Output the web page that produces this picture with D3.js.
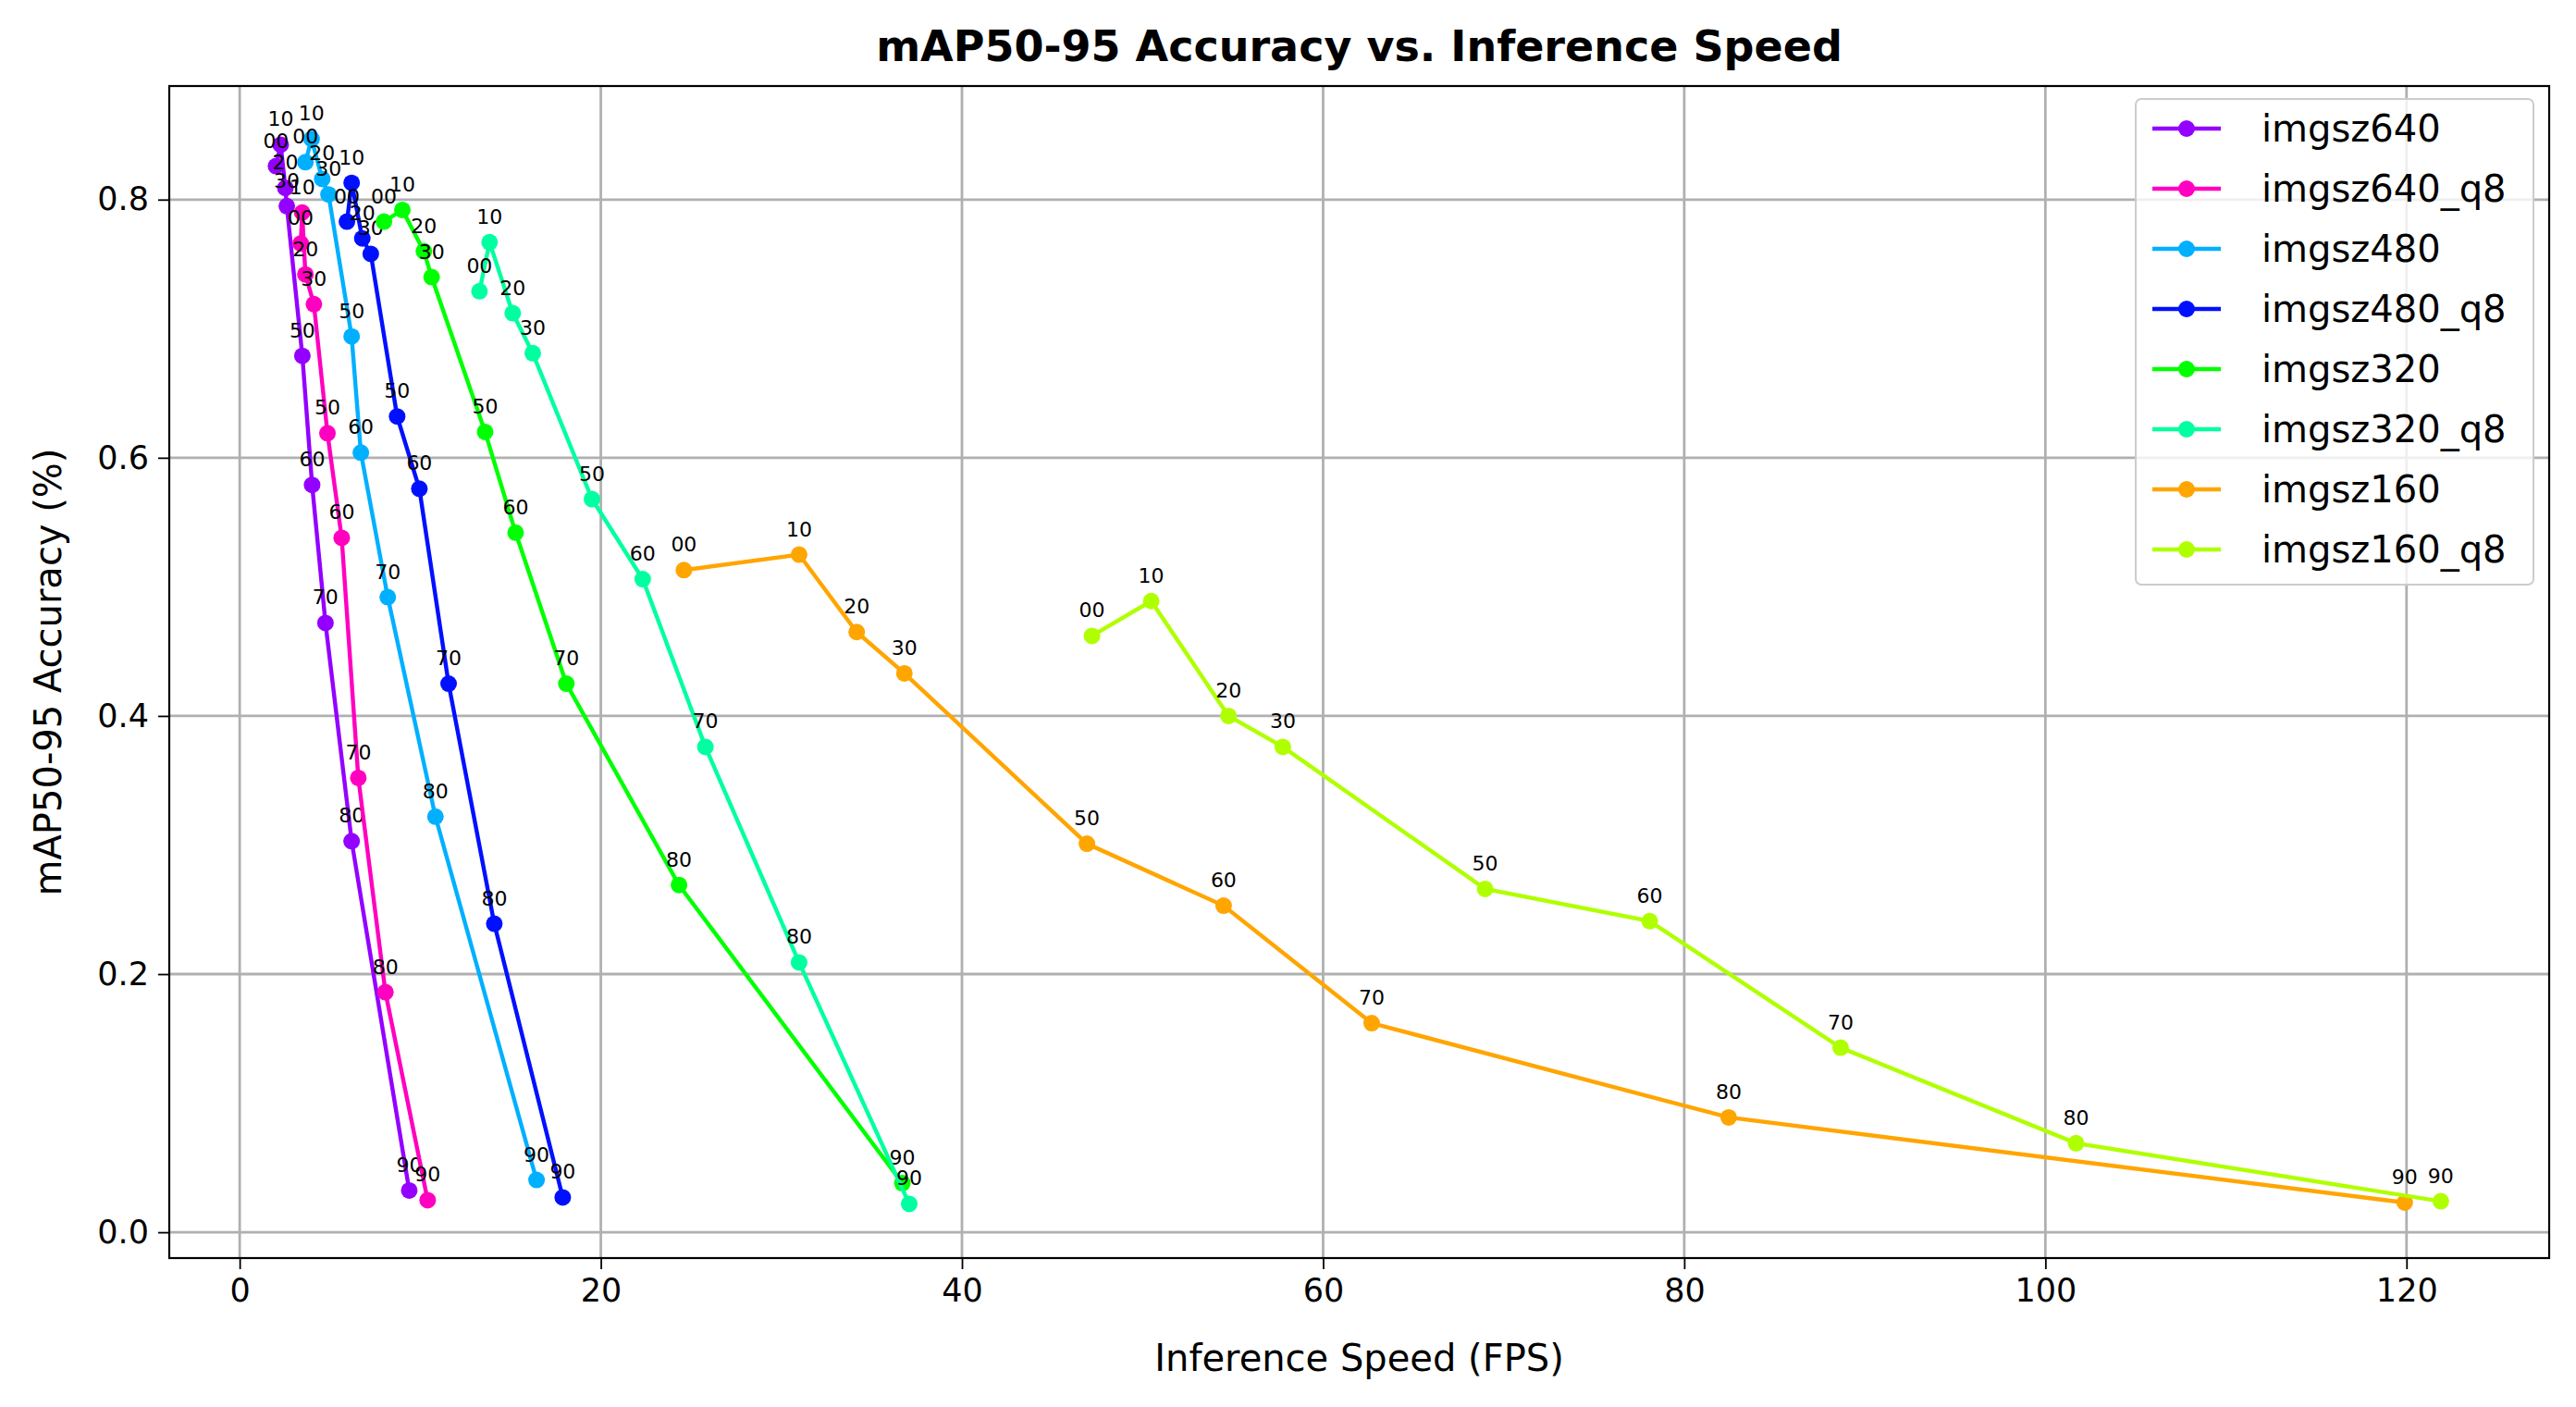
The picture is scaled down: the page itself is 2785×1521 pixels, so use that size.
<!DOCTYPE html>
<html><head><meta charset="utf-8">
<script src="https://cdn.jsdelivr.net/npm/d3@7"></script>
<style>body{margin:0;background:#fff}text{font-family:"DejaVu Sans",sans-serif}</style>
</head><body><div class="chart"></div>
<script>
var ptLabels = ["00","10","20","30","50","60","70","80","90"];
var seriesNames = ["imgsz640","imgsz640_q8","imgsz480","imgsz480_q8","imgsz320","imgsz320_q8","imgsz160","imgsz160_q8"];
var seriesColors = ["#9400ff","#ff00c0","#00b0ff","#0010ff","#00ff00","#00ffa0","#ffa500","#b0ff00"];
var fps = [
  [2.01,2.27,2.53,2.61,3.47,4.01,4.75,6.2,9.39],
  [3.38,3.46,3.64,4.11,4.86,5.65,6.57,8.07,10.41],
  [3.64,3.98,4.57,4.92,6.2,6.71,8.2,10.84,16.44],
  [5.94,6.2,6.79,7.26,8.72,9.95,11.57,14.1,17.89],
  [7.99,9.01,10.2,10.63,13.59,15.28,18.09,24.33,36.7],
  [13.28,13.84,15.12,16.23,19.51,22.32,25.79,30.98,37.08],
  [24.6,30.98,34.17,36.81,46.92,54.49,62.69,82.46,119.9],
  [47.2,50.48,54.76,57.77,68.97,78.09,88.66,101.7,121.9]
];
var acc = [
  [0.826,0.8425,0.809,0.795,0.679,0.579,0.472,0.303,0.0324],
  [0.766,0.790,0.742,0.719,0.619,0.538,0.352,0.186,0.0248],
  [0.829,0.847,0.816,0.804,0.694,0.604,0.492,0.322,0.0405],
  [0.783,0.813,0.770,0.758,0.632,0.576,0.425,0.239,0.027],
  [0.783,0.792,0.760,0.740,0.620,0.542,0.425,0.269,0.038],
  [0.729,0.767,0.712,0.681,0.568,0.506,0.376,0.209,0.022],
  [0.513,0.525,0.465,0.433,0.301,0.253,0.162,0.089,0.023],
  [0.462,0.489,0.400,0.376,0.266,0.241,0.143,0.069,0.024]
];
var xTicks = [0,20,40,60,80,100,120];
var yTicks = [0.0,0.2,0.4,0.6,0.8];

var W = 2785, H = 1521, L = 183, R = 2756, T = 93, B = 1360;
var svg = d3.select(".chart").append("svg").attr("width", W).attr("height", H);
var x = d3.scaleLinear().domain([-3.9, 127.9]).range([L, R]);
var y = d3.scaleLinear().domain([-0.020, 0.888]).range([B, T]);

// grid
svg.append("g").selectAll("line").data(xTicks).enter().append("line")
  .attr("x1", d => x(d)).attr("x2", d => x(d)).attr("y1", T).attr("y2", B)
  .attr("stroke", "#b0b0b0").attr("stroke-width", 2.8);
svg.append("g").selectAll("line").data(yTicks).enter().append("line")
  .attr("y1", d => y(d)).attr("y2", d => y(d)).attr("x1", L).attr("x2", R)
  .attr("stroke", "#b0b0b0").attr("stroke-width", 2.8);

var xa = svg.append("g").attr("transform", "translate(0," + B + ")")
  .call(d3.axisBottom(x).tickValues(xTicks).tickFormat(d3.format("d")).tickSize(12).tickPadding(10));
var ya = svg.append("g").attr("transform", "translate(" + L + ",0)")
  .call(d3.axisLeft(y).tickValues(yTicks).tickFormat(d3.format(".1f")).tickSize(12).tickPadding(10));
[xa, ya].forEach(function(a){
  a.select(".domain").remove();
  a.selectAll("line").attr("stroke", "#000").attr("stroke-width", 1.8);
  a.selectAll("text").attr("font-size", 35).attr("fill", "#000").style("font-family", "DejaVu Sans");
});

var line = d3.line().x(d => x(d[0])).y(d => y(d[1]));
seriesNames.forEach(function(n, i){
  var pts = fps[i].map((f, j) => [f, acc[i][j], ptLabels[j]]);
  var g = svg.append("g");
  g.append("path").datum(pts).attr("d", line).attr("fill", "none")
    .attr("stroke", seriesColors[i]).attr("stroke-width", 4.4);
  g.selectAll("circle").data(pts).enter().append("circle")
    .attr("cx", d => x(d[0])).attr("cy", d => y(d[1])).attr("r", 9).attr("fill", seriesColors[i]);
  g.selectAll("text").data(pts).enter().append("text")
    .attr("x", d => x(d[0])).attr("y", d => y(d[1]) - 20).attr("text-anchor", "middle")
    .attr("font-size", 22).text(d => d[2]);
});

svg.append("rect").attr("x", L).attr("y", T).attr("width", R - L).attr("height", B - T)
  .attr("fill", "none").attr("stroke", "#000").attr("stroke-width", 2.2);

svg.append("text").attr("x", (L + R) / 2).attr("y", 66).attr("text-anchor", "middle")
  .attr("font-size", 46).attr("font-weight", "bold").text("mAP50-95 Accuracy vs. Inference Speed");
svg.append("text").attr("x", (L + R) / 2).attr("y", 1482).attr("text-anchor", "middle")
  .attr("font-size", 40).text("Inference Speed (FPS)");
svg.append("text").attr("transform", "translate(66," + (T + B) / 2 + ") rotate(-90)")
  .attr("text-anchor", "middle").attr("font-size", 40).text("mAP50-95 Accuracy (%)");

// legend
var lg = svg.append("g").attr("transform", "translate(2309,107)");
lg.append("rect").attr("width", 430).attr("height", 525).attr("rx", 6)
  .attr("fill", "#fff").attr("fill-opacity", 0.8).attr("stroke", "#ccc").attr("stroke-width", 2);
var it = lg.selectAll("g").data(seriesNames).enter().append("g")
  .attr("transform", (d, i) => "translate(0," + (32 + i * 65) + ")");
it.append("line").attr("x1", 18).attr("x2", 92).attr("stroke", (d, i) => seriesColors[i]).attr("stroke-width", 4.4);
it.append("circle").attr("cx", 55).attr("r", 9).attr("fill", (d, i) => seriesColors[i]);
it.append("text").attr("x", 136).attr("dy", "0.35em").attr("font-size", 40).text(d => d);
</script></body></html>
